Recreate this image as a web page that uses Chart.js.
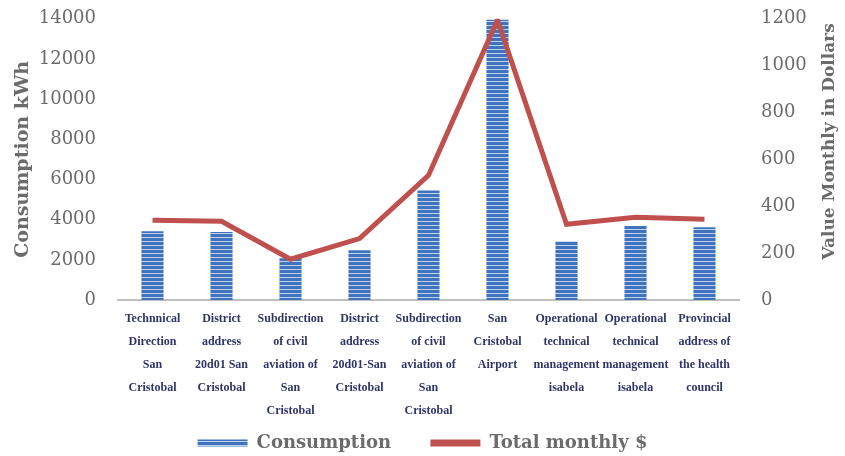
<!DOCTYPE html>
<html>
<head>
<meta charset="utf-8">
<script src="https://cdn.jsdelivr.net/npm/chart.js@4/dist/chart.umd.min.js"></script>
<style>
  html, body { margin: 0; padding: 0; background: #ffffff; overflow: hidden; }
  #frame { width: 845px; height: 456px; position: relative; overflow: hidden; }
  #wrap { width: 845px; height: 476px; position: absolute; left: 0; top: -14px; }
</style>
</head>
<body>
<div id="frame"><div id="wrap"><canvas id="chart"></canvas></div></div>
<script>
// Sites (multi-line category labels)
const categories = [
  ["Technnical", "Direction", "San", "Cristobal"],
  ["District", "address", "20d01 San", "Cristobal"],
  ["Subdirection", "of civil", "aviation of", "San", "Cristobal"],
  ["District", "address", "20d01-San", "Cristobal"],
  ["Subdirection", "of civil", "aviation of", "San", "Cristobal"],
  ["San", "Cristobal", "Airport"],
  ["Operational", "technical", "management", "isabela"],
  ["Operational", "technical", "management", "isabela"],
  ["Provincial", "address of", "the health", "council"]
];

// Energy use per site (kWh)
const consumption = [3420, 3380, 2080, 2480, 5450, 13950, 2930, 3680, 3620];

// Monthly bill per site (US$)
const totalMonthly = [340, 336, 174, 262, 532, 1195, 323, 353, 345];

// Axis tick ranges
const kwhTicks = { min: 0, max: 14000, step: 2000 };
const usdTicks = { min: 0, max: 1200, step: 200 };

const serif = "'DejaVu Serif', 'Liberation Serif', serif";
const grey = "#6b6b6b";

// Horizontal striped fill for the bars
function stripePattern() {
  const c = document.createElement("canvas");
  c.width = 4; c.height = 4;
  const g = c.getContext("2d");
  g.fillStyle = "#3f73bd";
  g.fillRect(0, 0, 4, 3);
  g.fillStyle = "#bcd2ee";
  g.fillRect(0, 3, 4, 1);
  return g.createPattern(c, "repeat");
}
const stripes = stripePattern();

// Right-hand title, read bottom to top
const rightTitle = {
  id: "rightTitle",
  afterDraw(chart) {
    const ctx = chart.ctx;
    const y1 = chart.scales.y1;
    ctx.save();
    ctx.translate(830, (y1.top + y1.bottom) / 2 - 18);
    ctx.rotate(-Math.PI / 2);
    ctx.font = "bold 17px " + serif;
    ctx.fillStyle = grey;
    ctx.textAlign = "center";
    ctx.textBaseline = "middle";
    ctx.fillText("Value Monthly in Dollars", 0, 0);
    ctx.restore();
  }
};

const plain = v => String(v);

new Chart(document.getElementById("chart"), {
  data: {
    labels: categories,
    datasets: [
      {
        type: "line",
        label: "Total monthly $",
        data: totalMonthly,
        yAxisID: "y1",
        borderColor: "#c0504d",
        backgroundColor: "#c0504d",
        borderWidth: 5,
        pointRadius: 0,
        tension: 0,
        order: 0
      },
      {
        type: "bar",
        label: "Consumption",
        data: consumption,
        yAxisID: "y",
        backgroundColor: stripes,
        borderWidth: 0,
        categoryPercentage: 1,
        barPercentage: 0.32,
        order: 1
      }
    ]
  },
  options: {
    responsive: true,
    maintainAspectRatio: false,
    animation: false,
    layout: { padding: { left: 8, right: 8, top: 0, bottom: 0 } },
    plugins: {
      tooltip: { enabled: false },
      legend: {
        position: "bottom",
        reverse: true,
        labels: {
          boxWidth: 50,
          boxHeight: 7,
          padding: 8,
          color: grey,
          font: { family: serif, size: 18, weight: "bold" },
          generateLabels(chart) {
            const items = Chart.defaults.plugins.legend.labels.generateLabels(chart);
            items.forEach(it => {
              it.lineWidth = 0;
              it.fillStyle = it.datasetIndex === 1 ? stripes : "#c0504d";
              if (it.datasetIndex === 1) it.text = it.text + "     ";
            });
            return items;
          }
        }
      }
    },
    scales: {
      x: {
        grid: { display: false, drawTicks: false },
        border: { display: true, color: "#bfbfbf", width: 2 },
        ticks: {
          autoSkip: false,
          maxRotation: 0,
          minRotation: 0,
          padding: 7,
          color: "#2f3566",
          font: { family: "'Liberation Serif', serif", size: 12, weight: "bold", lineHeight: 1.93 }
        },
        afterFit(s) { s.height = 126; }
      },
      y: {
        position: "left",
        min: kwhTicks.min,
        max: kwhTicks.max,
        grid: { display: false, drawTicks: false },
        border: { display: false },
        ticks: {
          stepSize: kwhTicks.step,
          padding: 22,
          color: grey,
          callback: plain,
          font: { family: serif, size: 18 }
        },
        title: {
          display: true,
          text: "Consumption kWh",
          color: grey,
          padding: { top: 4, bottom: 0 },
          font: { family: serif, size: 19, weight: "bold" }
        },
        afterFit(s) { s.width = 110; }
      },
      y1: {
        position: "right",
        min: usdTicks.min,
        max: usdTicks.max,
        grid: { display: false, drawTicks: false },
        border: { display: false },
        ticks: {
          stepSize: usdTicks.step,
          padding: 22,
          color: grey,
          callback: plain,
          font: { family: serif, size: 18 }
        },
        afterFit(s) { s.width = 98; }
      }
    }
  },
  plugins: [rightTitle]
});
</script>
</body>
</html>
